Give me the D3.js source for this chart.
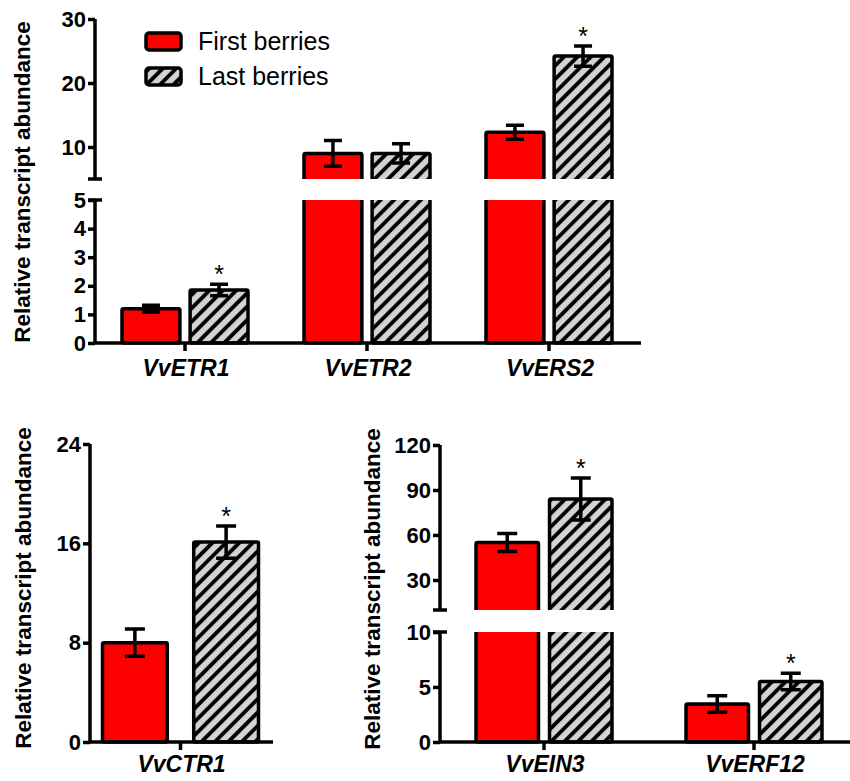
<!DOCTYPE html>
<html>
<head>
<meta charset="utf-8">
<script src="https://cdn.jsdelivr.net/npm/d3@7"></script>
<style>
  html, body { margin: 0; padding: 0; background: #fff; }
  svg { display: block; font-family: Arial, "Liberation Sans", Helvetica, sans-serif; }
</style>
</head>
<body>
<svg id="chart" width="850" height="781"></svg>
<script>
// ---------------- DATA ----------------
const series = ["First berries", "Last berries"];

const topGenes = ["VvETR1", "VvETR2", "VvERS2"];
const topFirst = [1.2, 9.0, 12.3];
const topFirstErr = [0.12, 2.0, 1.1];
const topLast = [1.85, 9.0, 24.2];
const topLastErr = [0.2, 1.5, 1.6];
const topSig = [true, false, true];
const topTicksLow = [0, 1, 2, 3, 4, 5];
const topTicksHigh = [10, 20, 30];

const ctrGenes = ["VvCTR1"];
const ctrFirst = [8.0];
const ctrFirstErr = [1.1];
const ctrLast = [16.1];
const ctrLastErr = [1.3];
const ctrSig = [true];
const ctrTicks = [0, 8, 16, 24];

const einGenes = ["VvEIN3", "VvERF12"];
const einFirst = [55, 3.45];
const einFirstErr = [6, 0.75];
const einLast = [84, 5.5];
const einLastErr = [14, 0.75];
const einSig = [true, true];
const einTicksLow = [0, 5, 10];
const einTicksHigh = [30, 60, 90, 120];

const yLabel = "Relative transcript abundance";

// ---------------- STYLE ----------------
const RED = "#ff0000";
const HATCH_BG = "#d3d3d3";
const LW = 3.5;
const svg = d3.select("#chart");

const defs = svg.append("defs");
const pat = defs.append("pattern")
  .attr("id", "hatch")
  .attr("patternUnits", "userSpaceOnUse")
  .attr("width", 9.5).attr("height", 9.5)
  .attr("patternTransform", "rotate(45)");
pat.append("rect").attr("width", 9.5).attr("height", 9.5).attr("fill", HATCH_BG);
pat.append("line").attr("x1", 2).attr("x2", 2).attr("y1", 0).attr("y2", 9.5)
  .attr("stroke", "#000").attr("stroke-width", 3.8);

const fills = [RED, "url(#hatch)"];

let clipId = 0;

function drawPanel(o) {
  const g = svg.append("g");
  const x0 = d3.scaleBand().domain(o.genes).range([o.axisX, o.axisX + o.step * o.genes.length]);
  const x1 = d3.scaleBand().domain(series).range([-o.half, o.half]).paddingInner(o.pin);
  const center = gname => x0(gname) + x0.bandwidth() / 2 + (o.shift || 0);

  const rows = o.genes.map((gn, i) => [
    { gene: gn, s: series[0], v: o.first[i], e: o.firstErr[i], sig: false },
    { gene: gn, s: series[1], v: o.last[i], e: o.lastErr[i], sig: o.sig[i] }
  ]).flat();

  const segs = o.segments.map(sg => ({
    ...sg,
    y: d3.scaleLinear().domain(sg.domain).range(sg.range)
  }));

  segs.forEach((sg, si) => {
    const id = "clip" + (clipId++);
    const yTop = sg.range[1];
    const yBot = sg.range[0];
    const isBottom = sg.domain[0] === 0;
    defs.append("clipPath").attr("id", id).append("rect")
      .attr("x", o.axisX).attr("width", 900)
      .attr("y", isBottom ? yTop : yTop - 300)
      .attr("height", isBottom ? (yBot - yTop + 6) : (yBot - yTop + 300));

    const bg = g.append("g").attr("clip-path", `url(#${id})`);
    bg.selectAll("rect").data(rows.filter(d => d.v > sg.domain[0])).join("rect")
      .attr("x", d => center(d.gene) + x1(d.s))
      .attr("width", x1.bandwidth())
      .attr("y", d => d.v > sg.domain[1] ? yTop - 12 : sg.y(d.v))
      .attr("height", d => {
        const t = d.v > sg.domain[1] ? yTop - 12 : sg.y(d.v);
        const b = isBottom ? sg.y(0) : yBot + 12;
        return b - t;
      })
      .attr("fill", d => fills[series.indexOf(d.s)])
      .attr("stroke", "#000").attr("stroke-width", LW)
      .attr("stroke-linejoin", "round")
      .attr("rx", 1.5);

    // axis for this segment
    const ax = g.append("g").attr("transform", `translate(${o.axisX},0)`)
      .call(d3.axisLeft(sg.y).tickValues(sg.ticks).tickFormat(d3.format("d"))
        .tickSize(7).tickSizeOuter(0).tickPadding(2));
    ax.select(".domain").attr("stroke-width", LW).attr("d", `M0,${yBot}V${yTop}`);
    ax.selectAll(".tick line").attr("stroke-width", LW);
    ax.selectAll(".tick text").attr("font-size", o.tickFont).attr("font-weight", "bold")
      .attr("fill", "#000").attr("font-family", "Arial, 'Liberation Sans', sans-serif");

    // break caps
    if (segs.length > 1) {
      if (!isBottom) {
        g.append("line").attr("x1", o.axisX - 7).attr("x2", o.axisX + 7)
          .attr("y1", yBot).attr("y2", yBot).attr("stroke", "#000").attr("stroke-width", LW);
      }
      if (si === 0) {
        g.append("line").attr("x1", o.axisX - 7).attr("x2", o.axisX + 7)
          .attr("y1", yTop).attr("y2", yTop).attr("stroke", "#000").attr("stroke-width", LW);
      }
    }

    // error bars & asterisks for values in this segment
    const inSeg = rows.filter(d => d.v > sg.domain[0] && d.v <= sg.domain[1]);
    inSeg.forEach(d => {
      const cx = center(d.gene) + x1(d.s) + x1.bandwidth() / 2;
      const yh = sg.y(d.v + d.e), yl = sg.y(d.v - d.e);
      const cw = o.capW / 2;
      g.append("path")
        .attr("d", `M${cx},${yl}V${yh}M${cx - cw},${yh}H${cx + cw}M${cx - cw},${yl}H${cx + cw}`)
        .attr("stroke", "#000").attr("stroke-width", LW).attr("fill", "none");
      if (d.sig) {
        g.append("text").attr("x", cx).attr("y", yh - 1)
          .attr("text-anchor", "middle").attr("font-size", 25)
          .attr("fill", "#000").text("*");
      }
    });
  });

  // x axis
  const y0 = segs[0].y(0);
  g.append("line").attr("x1", o.axisX).attr("x2", o.xEnd).attr("y1", y0).attr("y2", y0)
    .attr("stroke", "#000").attr("stroke-width", LW);
  o.genes.forEach(gn => {
    g.append("line").attr("x1", center(gn)).attr("x2", center(gn))
      .attr("y1", y0).attr("y2", y0 + 8).attr("stroke", "#000").attr("stroke-width", LW);
    g.append("text").attr("x", center(gn) + 1).attr("y", o.labelY)
      .attr("text-anchor", "middle").attr("font-size", 23)
      .attr("font-weight", "bold").attr("font-style", "italic").attr("fill", "#000")
      .text(gn);
  });

  // y label
  g.append("text")
    .attr("transform", `translate(${o.yLabelX},${o.yLabelY}) rotate(-90)`)
    .attr("text-anchor", "middle").attr("font-size", 22.5).attr("font-weight", "bold")
    .attr("fill", "#000").text(yLabel);
}

// Top panel
drawPanel({
  genes: topGenes, first: topFirst, firstErr: topFirstErr, last: topLast, lastErr: topLastErr, sig: topSig,
  axisX: 95, step: 182, xEnd: 641, half: 63, pin: 0.15, shift: -1, capW: 18, tickFont: 22,
  segments: [
    { domain: [0, 5], range: [343, 200], ticks: topTicksLow },
    { domain: [5, 30], range: [179, 19], ticks: topTicksHigh }
  ],
  labelY: 376, yLabelX: 30, yLabelY: 182
});

// Bottom-left panel
drawPanel({
  genes: ctrGenes, first: ctrFirst, firstErr: ctrFirstErr, last: ctrLast, lastErr: ctrLastErr, sig: ctrSig,
  axisX: 90, step: 183, xEnd: 273, half: 78, pin: 0.29, shift: -1, capW: 20, tickFont: 22,
  segments: [
    { domain: [0, 24], range: [742, 444], ticks: ctrTicks }
  ],
  labelY: 772, yLabelX: 31, yLabelY: 588
});

// Bottom-right panel
drawPanel({
  genes: einGenes, first: einFirst, firstErr: einFirstErr, last: einLast, lastErr: einLastErr, sig: einSig,
  axisX: 440, step: 210, xEnd: 850, half: 68, pin: 0.15, shift: -1, capW: 20, tickFont: 22,
  segments: [
    { domain: [0, 10], range: [742, 632], ticks: einTicksLow },
    { domain: [10, 120], range: [610, 445], ticks: einTicksHigh }
  ],
  labelY: 772, yLabelX: 380, yLabelY: 589
});

// Legend
const leg = svg.append("g");
series.forEach((s, i) => {
  leg.append("rect").attr("x", 146).attr("y", 33 + i * 35).attr("width", 35).attr("height", 17)
    .attr("rx", 3).attr("fill", fills[i]).attr("stroke", "#000").attr("stroke-width", LW);
  leg.append("text").attr("x", 198).attr("y", 50 + i * 35).attr("font-size", 25)
    .attr("fill", "#000").text(s);
});
</script>
</body>
</html>
